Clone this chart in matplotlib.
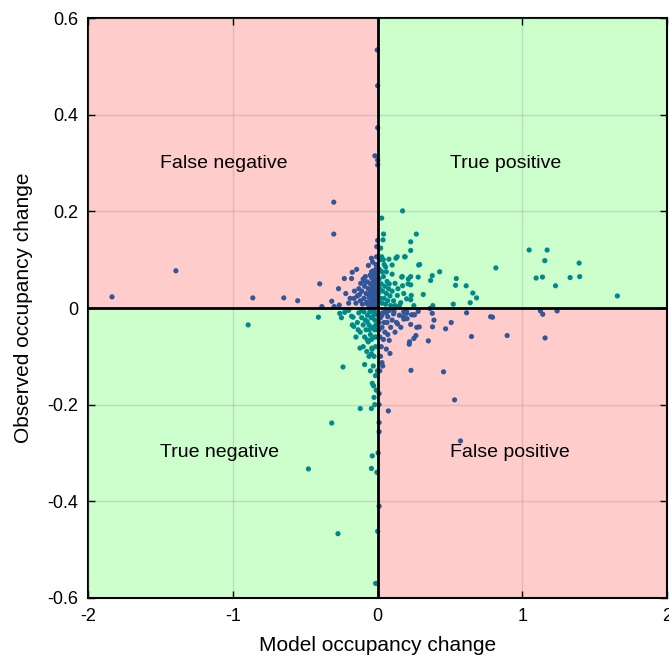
import matplotlib
matplotlib.use("Agg")
import matplotlib.pyplot as plt
import numpy as np

plt.rcParams['font.family'] = ['Liberation Sans', 'DejaVu Sans']

# Misclassified sites (sign of model and observed change disagree)
wrong_x = [-1.834, -1.393, -0.862, -0.648, -0.552, -0.303, -0.303, -0.40, -0.317, -0.385, -0.30, -0.265,
           -0.003, 0.0, 0.0, -0.019, 0.0, 0.0,
           -0.23, -0.175, -0.145, -0.18, -0.043, -0.064, -0.03, -0.008, -0.006, 0.0, -0.117, -0.07, -0.163, -0.012, -0.01,
           -0.09, -0.08, -0.075, -0.065, -0.06, -0.055, -0.05, -0.048, -0.045, -0.04, -0.038, -0.035, -0.032, -0.03,
           -0.027, -0.025, -0.022, -0.02, -0.018, -0.016, -0.014, -0.012, -0.01, -0.008, -0.007, -0.006, -0.005,
           -0.004, -0.003, -0.002, -0.11, -0.12, -0.13, -0.10, -0.14, -0.105, -0.085, -0.15, -0.20, -0.22, -0.27,
           -0.095, -0.07, -0.058, -0.042, -0.028, -0.015, -0.125, -0.16, -0.19, -0.035, -0.052, -0.088,
           0.03, 0.07, 0.113, 0.138, 0.18, 0.20, 0.228, 0.246, 0.287, 0.264, 0.25, 0.218, 0.377, 0.389, 0.379,
           0.469, 0.508, 0.614, 0.648, 0.78, 0.793, 0.08, 0.06, 0.085, 0.03, 0.23, 0.455, 0.531, 0.074, 0.572,
           0.35, 0.894, 1.124, 1.14, 1.239, 1.156, 0.361, 0.28, 0.176, 0.203, 0.181, 0.234, 0.255, 0.20, 0.22, 0.27,
           0.01, 0.01, 0.01, 0.01, 0.003, 0.01,
           0.02, 0.03, 0.045, 0.05, 0.06, 0.015, 0.025, 0.04, 0.01, 0.02, 0.09, 0.10, 0.12, 0.11, 0.08, 0.05,
           0.035, 0.015, 0.03, 0.065, 0.13, 0.15, 0.16, 0.07, 0.01, 0.005]
wrong_y = [0.023, 0.077, 0.021, 0.021, 0.015, 0.219, 0.153, 0.050, 0.014, 0.003, 0.003, 0.006,
           0.534, 0.46, 0.373, 0.315, 0.306, 0.296,
           0.061, 0.074, 0.080, 0.061, 0.103, 0.088, 0.077, 0.106, 0.127, 0.14, 0.051, 0.054, 0.020, 0.09, 0.072,
           0.045, 0.03, 0.012, 0.04, 0.022, 0.005, 0.05, 0.033, 0.015, 0.062, 0.042, 0.025, 0.008, 0.055,
           0.035, 0.018, 0.068, 0.045, 0.028, 0.01, 0.058, 0.038, 0.02, 0.082, 0.05, 0.03, 0.012,
           0.065, 0.042, 0.004, 0.035, 0.015, 0.04, 0.06, 0.025, 0.008, 0.065, 0.01, 0.01, 0.03, 0.04,
           0.02, 0.008, 0.028, 0.075, 0.002, 0.048, 0.028, 0.035, 0.02, 0.095, 0.068, 0.055,
           -0.011, -0.018, -0.008, -0.033, -0.008, -0.011, -0.034, -0.014, -0.039, -0.057, -0.063, -0.075, -0.011, -0.025, -0.039,
           -0.043, -0.030, -0.010, -0.059, -0.018, -0.019, -0.067, -0.085, -0.094, -0.113, -0.129, -0.132, -0.19, -0.213, -0.275,
           -0.068, -0.057, -0.006, -0.013, -0.006, -0.062, -0.001, -0.007, -0.018, -0.022, -0.023, -0.014, -0.014, -0.007, -0.07, -0.04,
           -0.177, -0.2, -0.237, -0.256, -0.3, -0.41,
           -0.02, -0.04, -0.03, -0.05, -0.01, -0.06, -0.08, -0.065, -0.03, -0.1, -0.04, -0.025, -0.05, -0.012, -0.005, -0.004,
           -0.12, -0.13, -0.015, -0.03, -0.03, -0.015, -0.04, -0.055, -0.045, -0.015]

# Correctly classified sites
right_x = [0.172, 0.028, 0.041, 0.037, 0.021, 0.267, 0.228, 0.228, 0.186, 0.126, 0.078, 0.039, 0.283, 0.29,
           0.428, 0.377, 0.366, 0.28, 0.212, 0.166, 0.228, 0.172, 0.12, 0.315, 0.232, 0.20, 0.136, 0.159, 0.381,
           0.522, 0.538, 0.543, 0.611, 0.657, 0.683, 0.639, 0.816, 1.046, 1.17, 1.154, 1.094, 1.138, 1.228, 1.391,
           1.329, 1.395, 1.655, 0.21, 0.028, 0.135, 0.10, 0.055, 0.19, 0.17, 0.228, 0.10, 0.08, 0.228,
           0.01, 0.015, 0.02, 0.025, 0.03, 0.035, 0.04, 0.045, 0.05, 0.055, 0.06, 0.07, 0.075, 0.085, 0.09, 0.10,
           0.11, 0.12, 0.065, 0.005, 0.008, 0.012, 0.018, 0.03, 0.045, 0.06, 0.14, 0.15, 0.18, 0.25,
           -0.037, -0.028, -0.025, -0.12, -0.043, -0.317, -0.037, -0.043, -0.478, -0.274, 0.0, -0.014, -0.005,
           -0.409, -0.239, -0.09, -0.122, -0.071, -0.043, -0.04, -0.894, -0.262, -0.228, -0.17, -0.18, -0.175,
           -0.165, -0.002, -0.005,
           -0.01, -0.02, -0.03, -0.035, -0.045, -0.05, -0.055, -0.06, -0.065, -0.07, -0.08, -0.085, -0.09, -0.095,
           -0.10, -0.11, -0.12, -0.13, -0.14, -0.15, -0.02, -0.015, -0.025, -0.01, -0.005, -0.03, -0.015, -0.06,
           -0.075, -0.10, -0.20, -0.25, -0.01, -0.02, -0.05,
           -0.012, -0.028, -0.042, -0.058, -0.072, -0.038, -0.022, -0.008, -0.11, -0.135]
right_y = [0.201, 0.186, 0.153, 0.141, 0.124, 0.153, 0.137, 0.119, 0.106, 0.103, 0.101, 0.100, 0.089, 0.090,
           0.075, 0.067, 0.057, 0.064, 0.060, 0.064, 0.048, 0.046, 0.051, 0.028, 0.026, 0.019, 0.026, 0.011, 0.005,
           0.008, 0.047, 0.061, 0.046, 0.031, 0.021, 0.011, 0.083, 0.12, 0.12, 0.098, 0.062, 0.064, 0.046, 0.093,
           0.063, 0.065, 0.025, 0.05, 0.106, 0.106, 0.089, 0.085, 0.106, 0.065, 0.065, 0.07, 0.05, 0.017,
           0.06, 0.04, 0.02, 0.05, 0.01, 0.035, 0.065, 0.02, 0.045, 0.008, 0.03, 0.015, 0.04, 0.025, 0.005, 0.035,
           0.015, 0.005, 0.055, 0.03, 0.012, 0.08, 0.10, 0.075, 0.09, 0.075, 0.04, 0.005, 0.03, 0.005,
           -0.156, -0.161, -0.185, -0.208, -0.208, -0.238, -0.306, -0.332, -0.333, -0.467, -0.462, -0.57, -0.57,
           -0.019, -0.122, -0.117, -0.083, -0.066, -0.095, -0.083, -0.035, -0.011, -0.009, -0.019, -0.017, -0.035,
           -0.038, -0.13, -0.34,
           -0.01, -0.025, -0.005, -0.04, -0.02, -0.055, -0.008, -0.035, -0.07, -0.015, -0.045, -0.025, -0.06, -0.008,
           -0.035, -0.02, -0.05, -0.01, -0.03, -0.06, -0.06, -0.08, -0.10, -0.045, -0.025, -0.12, -0.14, -0.10,
           -0.09, -0.08, -0.005, -0.02, -0.17, -0.20, -0.13,
           -0.035, -0.015, -0.065, -0.045, -0.028, -0.085, -0.045, -0.06, -0.005, -0.045]

quadrant_labels = ['False negative', 'True positive', 'True negative', 'False positive']
label_x = [-1.5, 0.5, -1.5, 0.5]
label_y = [0.3, 0.3, -0.3, -0.3]

fig = plt.figure(figsize=(6.69, 6.59), dpi=100)
ax = fig.add_axes([0.1315, 0.0926, 0.866, 0.880])

red = '#ffcccc'
green = '#ccffcc'
ax.fill_between([-2, 0], 0, 0.6, color=red, lw=0, zorder=0)
ax.fill_between([0, 2], 0, 0.6, color=green, lw=0, zorder=0)
ax.fill_between([-2, 0], -0.6, 0, color=green, lw=0, zorder=0)
ax.fill_between([0, 2], -0.6, 0, color=red, lw=0, zorder=0)

ax.grid(True, color='#808080', alpha=0.25, lw=1, zorder=1)
ax.set_axisbelow(False)

ax.scatter(right_x, right_y, s=14, color='#00898c', edgecolors='none', zorder=3)
ax.scatter(wrong_x, wrong_y, s=14, color='#30579c', edgecolors='none', zorder=3)

ax.axhline(0, color='black', lw=2, zorder=4)
ax.axvline(0, color='black', lw=2, zorder=4)

for t, x, y in zip(quadrant_labels, label_x, label_y):
    ax.text(x, y, t, fontsize=14, ha='left', va='center', zorder=5)

ax.set_xlim(-2, 2)
ax.set_ylim(-0.6, 0.6)
ax.set_xticks([-2, -1, 0, 1, 2])
ax.set_xticklabels(['-2', '-1', '0', '1', '2'])
ax.set_yticks([-0.6, -0.4, -0.2, 0, 0.2, 0.4, 0.6])
ax.set_yticklabels(['-0.6', '-0.4', '-0.2', '0', '0.2', '0.4', '0.6'])
ax.tick_params(direction='in', length=5, width=1, top=True, right=True, labelsize=13, pad=7)
for spine in ax.spines.values():
    spine.set_linewidth(1.5)

ax.set_xlabel('Model occupancy change', fontsize=15, labelpad=8)
ax.set_ylabel('Observed occupancy change', fontsize=15, labelpad=10)

fig.savefig('out.png', dpi=100)
